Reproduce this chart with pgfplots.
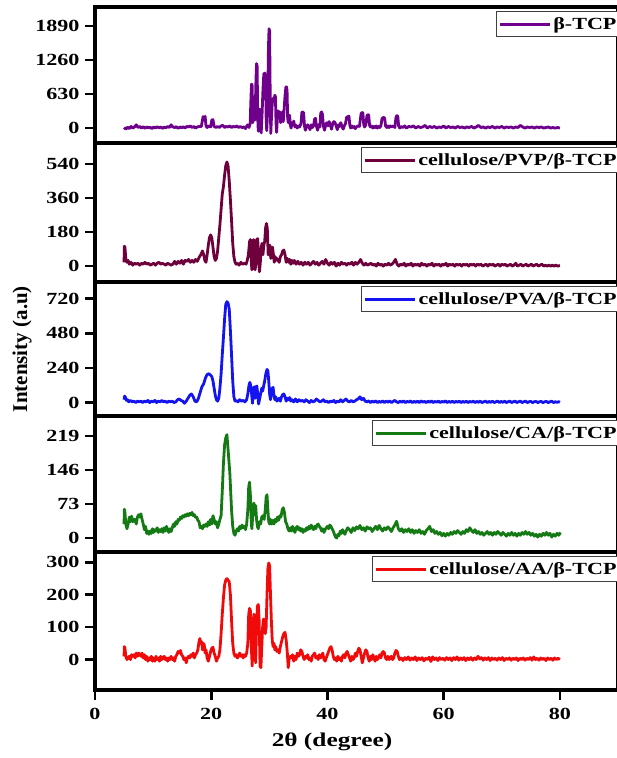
\documentclass[border=0pt]{standalone}
\usepackage{fontspec}
\setmainfont{Liberation Serif}
\newfontfamily\wfont[FakeStretch=1.3]{Liberation Serif}
\usepackage{pgfplots}
\pgfplotsset{compat=1.18}
\definecolor{cTCP}{RGB}{110,0,140}
\definecolor{cPVP}{RGB}{110,0,60}
\definecolor{cPVA}{RGB}{20,20,240}
\definecolor{cCA}{RGB}{20,122,20}
\definecolor{cAA}{RGB}{240,10,10}
\pgfplotsset{
  panel/.style={
    scale only axis, width=523pt, xmin=0, xmax=90,
    axis line style={line width=3.2pt},
    every tick/.style={line width=2.6pt, black},
    major tick length=10pt, tick align=outside,
    ytick pos=left, xtick pos=bottom,
    /pgf/number format/assume math mode=true,
    /pgf/number format/1000 sep={},
    ticklabel style={font=\wfont\bfseries\fontsize{17}{17}\selectfont},
    yticklabel style={xshift=-2pt},
    xticklabel style={yshift=-5pt},
    legend style={at={(rel axis cs:1,1)}, anchor=north east, xshift=3pt, yshift=-4pt,
      draw=black!75, line width=1pt, inner xsep=2pt, inner ysep=4pt,
      font=\wfont\bfseries\fontsize{17}{19}\selectfont},
    legend image code/.code={\draw[#1,line width=3pt] (0pt,0pt) -- (50pt,0pt);},
    every axis plot/.append style={line width=2.8pt, line join=round},
  }
}
\begin{document}
\begin{tikzpicture}[x=1pt,y=1pt]
\useasboundingbox (0,0) rectangle (617,-758);
% ---------- panel 1: beta-TCP
\begin{axis}[panel, at={(95pt,-7pt)}, anchor=north west, height=136pt,
  ymin=-277, ymax=2245, ytick={0,630,1260,1890}, xtick=\empty]
\addplot[cTCP] coordinates {(5.0,10) (5.3,-20) (5.6,15) (5.9,-10) (6.2,30) (6.5,0) (6.8,20) (7.1,60) (7.4,10) (7.7,30) (8.0,0) (8.3,25) (8.6,-5) (8.9,20) (9.2,5) (9.5,15) (9.8,-10) (10.1,20) (10.4,0) (10.7,25) (11.0,5) (11.3,20) (11.6,-5) (11.9,15) (12.2,5) (12.5,30) (12.8,10) (13.1,60) (13.4,20) (13.7,10) (14.0,25) (14.3,-5) (14.6,20) (14.9,5) (15.2,25) (15.5,0) (15.8,30) (16.1,20) (16.4,40) (16.7,10) (17.0,30) (17.3,0) (17.6,20) (18.0,30) (18.3,30) (18.5,150) (18.6,210) (18.8,200) (18.95,215) (19.1,40) (19.3,10) (19.6,40) (19.9,20) (20.1,150) (20.3,155) (20.5,30) (20.8,10) (21.1,30) (21.4,10) (21.7,40) (22.0,50) (22.3,10) (22.6,30) (22.9,20) (23.2,40) (23.5,10) (23.8,30) (24.1,20) (24.4,40) (24.7,10) (25.0,30) (25.3,10) (25.6,20) (25.9,-10) (26.0,20) (26.3,60) (26.5,10) (26.7,80) (26.85,600) (26.95,815) (27.05,790) (27.15,100) (27.3,250) (27.45,400) (27.55,150) (27.7,900) (27.8,1195) (27.9,1150) (28.0,200) (28.1,-60) (28.2,150) (28.35,350) (28.5,50) (28.6,-90) (28.75,250) (28.9,700) (29.05,1000) (29.2,1020) (29.35,950) (29.45,200) (29.55,-50) (29.7,300) (29.85,1500) (29.95,1842) (30.05,1800) (30.15,600) (30.25,-100) (30.35,150) (30.5,450) (30.65,550) (30.8,500) (30.95,610) (31.05,580) (31.15,100) (31.25,-80) (31.4,200) (31.5,320) (31.65,250) (31.8,300) (31.95,100) (32.1,200) (32.25,300) (32.4,120) (32.55,350) (32.7,600) (32.85,760) (32.95,764) (33.05,700) (33.15,200) (33.25,100) (33.4,240) (33.5,230) (33.6,60) (33.75,0) (33.9,100) (34.05,60) (34.2,130) (34.4,20) (34.6,50) (34.8,0) (35.0,40) (35.2,20) (35.45,80) (35.6,290) (35.75,300) (35.9,280) (36.05,40) (36.2,-40) (36.4,20) (36.6,60) (36.8,30) (37.0,-30) (37.2,60) (37.4,10) (37.6,40) (37.8,170) (37.95,180) (38.1,40) (38.3,-40) (38.5,60) (38.7,20) (38.85,280) (39.0,300) (39.15,250) (39.3,40) (39.5,-40) (39.7,60) (39.9,100) (40.1,40) (40.3,120) (40.5,60) (40.7,-20) (40.9,80) (41.1,120) (41.3,100) (41.5,40) (41.7,-30) (41.9,60) (42.1,30) (42.3,100) (42.5,30) (42.7,-20) (42.9,40) (43.1,80) (43.3,200) (43.5,210) (43.7,220) (43.85,60) (44.0,0) (44.2,40) (44.4,10) (44.6,30) (44.8,-10) (45.0,20) (45.2,40) (45.5,30) (45.8,270) (45.95,290) (46.1,280) (46.25,60) (46.4,20) (46.6,60) (46.8,230) (46.95,250) (47.1,240) (47.25,50) (47.4,20) (47.6,40) (47.8,0) (48.0,30) (48.2,10) (48.4,40) (48.6,0) (48.8,30) (49.0,10) (49.2,40) (49.4,180) (49.55,190) (49.7,200) (49.85,180) (50.0,40) (50.2,10) (50.4,40) (50.6,10) (50.8,40) (51.0,20) (51.3,40) (51.6,10) (51.8,200) (51.95,230) (52.1,220) (52.25,40) (52.45,0) (52.7,30) (53.0,10) (53.3,40) (53.6,0) (54.0,30) (54.4,20) (54.8,40) (55.2,0) (55.6,30) (56.0,10) (56.4,20) (56.8,50) (57.2,0) (57.6,30) (58.0,10) (58.4,30) (58.8,0) (59.2,20) (59.6,10) (60.0,40) (60.4,0) (60.8,30) (61.2,10) (61.6,20) (62.0,0) (62.4,30) (62.8,10) (63.2,20) (63.6,0) (64.0,20) (64.4,10) (64.8,30) (65.2,0) (65.6,20) (66.0,50) (66.4,10) (66.8,20) (67.2,0) (67.6,20) (68.0,10) (68.4,30) (68.8,0) (69.2,20) (69.6,10) (70.0,30) (70.4,0) (70.8,20) (71.2,10) (71.6,20) (72.0,0) (72.4,20) (72.8,10) (73.2,50) (73.6,20) (74.0,0) (74.4,20) (74.8,10) (75.2,20) (75.6,0) (76.0,20) (76.4,10) (76.8,20) (77.2,0) (77.6,10) (78.0,20) (78.4,0) (78.8,10) (79.2,0) (79.6,10) (80.0,0)};
\addlegendentry{β-TCP}
\end{axis}
% ---------- panel 2: PVP
\begin{axis}[panel, at={(95pt,-143pt)}, anchor=north west, height=139pt,
  ymin=-84, ymax=650, ytick={0,180,360,540}, xtick=\empty]
\addplot[cPVP] coordinates {(5.0,20) (5.05,105) (5.15,100) (5.3,40) (5.5,20) (5.7,30) (5.9,10) (6.2,20) (6.5,5) (6.8,15) (7.1,10) (7.4,15) (7.7,5) (8.0,15) (8.3,10) (8.6,20) (8.9,10) (9.2,15) (9.5,5) (9.8,10) (10.1,15) (10.4,5) (10.7,15) (11.0,20) (11.3,10) (11.6,15) (11.9,10) (12.2,5) (12.5,15) (12.8,10) (13.1,5) (13.4,10) (13.7,25) (14.0,10) (14.3,25) (14.6,15) (14.9,30) (15.2,10) (15.5,30) (15.8,25) (16.1,35) (16.4,20) (16.7,30) (17.0,20) (17.3,35) (17.6,25) (17.9,45) (18.2,60) (18.5,80) (18.7,60) (18.9,30) (19.1,20) (19.3,60) (19.5,110) (19.7,150) (19.9,165) (20.1,150) (20.3,100) (20.5,50) (20.7,30) (20.9,40) (21.1,80) (21.3,150) (21.5,220) (21.7,300) (21.9,380) (22.1,420) (22.3,480) (22.5,530) (22.7,550) (22.9,530) (23.1,450) (23.3,350) (23.5,240) (23.7,120) (23.9,50) (24.1,20) (24.3,10) (24.5,15) (24.8,5) (25.1,20) (25.4,10) (25.7,15) (26.0,10) (26.2,30) (26.4,60) (26.6,130) (26.75,140) (26.9,20) (27.0,-20) (27.15,130) (27.3,140) (27.45,100) (27.55,-20) (27.7,20) (27.85,140) (28.0,145) (28.15,30) (28.3,-30) (28.45,20) (28.6,100) (28.75,120) (28.9,60) (29.05,110) (29.2,130) (29.35,200) (29.5,225) (29.65,200) (29.8,60) (29.95,100) (30.1,110) (30.25,40) (30.4,90) (30.55,100) (30.7,60) (30.85,20) (31.0,50) (31.15,30) (31.3,40) (31.5,30) (31.7,20) (31.9,50) (32.1,60) (32.3,80) (32.5,85) (32.7,60) (32.9,20) (33.1,40) (33.3,20) (33.5,35) (33.7,10) (33.9,30) (34.1,15) (34.3,30) (34.6,10) (34.9,25) (35.2,10) (35.5,20) (35.8,5) (36.1,20) (36.4,10) (36.7,20) (37.0,5) (37.3,15) (37.6,25) (37.9,10) (38.2,20) (38.5,5) (38.8,15) (39.1,25) (39.4,10) (39.7,35) (40.0,15) (40.3,5) (40.6,20) (40.9,10) (41.2,20) (41.5,0) (41.8,15) (42.1,5) (42.4,20) (42.7,10) (43.0,15) (43.3,5) (43.6,15) (43.9,10) (44.2,20) (44.5,5) (44.8,20) (45.1,10) (45.4,20) (45.7,35) (46.0,15) (46.3,5) (46.6,15) (46.9,5) (47.2,10) (47.5,15) (47.8,5) (48.1,10) (48.4,0) (48.7,15) (49.0,5) (49.3,10) (49.6,0) (49.9,10) (50.2,5) (50.5,15) (50.8,5) (51.1,10) (51.4,20) (51.7,35) (52.0,10) (52.3,0) (52.6,10) (52.9,5) (53.2,15) (53.5,0) (53.8,10) (54.1,5) (54.4,15) (54.7,0) (55.0,10) (55.3,5) (55.6,10) (55.9,0) (56.2,15) (56.5,5) (56.8,10) (57.1,0) (57.4,10) (57.7,5) (58.0,15) (58.3,0) (58.6,10) (58.9,5) (59.2,10) (59.5,0) (59.8,10) (60.1,5) (60.4,15) (60.7,0) (61.0,10) (61.3,5) (61.6,10) (61.9,0) (62.2,10) (62.5,5) (62.8,10) (63.1,0) (63.4,10) (63.7,5) (64.0,10) (64.3,0) (64.6,10) (64.9,5) (65.2,10) (65.5,0) (65.8,10) (66.1,5) (66.4,10) (66.7,0) (67.0,5) (67.3,10) (67.6,0) (67.9,10) (68.2,5) (68.5,10) (68.8,0) (69.1,5) (69.4,10) (69.7,0) (70.0,10) (70.3,5) (70.6,10) (70.9,0) (71.2,5) (71.5,10) (71.8,0) (72.1,5) (72.4,15) (72.7,0) (73.0,5) (73.3,10) (73.6,0) (73.9,5) (74.2,10) (74.5,0) (74.8,5) (75.1,10) (75.4,0) (75.7,5) (76.0,10) (76.3,0) (76.6,5) (76.9,10) (77.2,0) (77.5,5) (77.8,0) (78.1,5) (78.4,0) (78.7,5) (79.0,0) (79.3,5) (79.6,0) (80.0,3)};
\addlegendentry{cellulose/PVP/β-TCP}
\end{axis}
% ---------- panel 3: PVA
\begin{axis}[panel, at={(95pt,-282pt)}, anchor=north west, height=134pt,
  ymin=-93, ymax=836, ytick={0,240,480,720}, xtick=\empty]
\addplot[cPVA] coordinates {(5.0,20) (5.1,45) (5.25,35) (5.4,15) (5.6,20) (5.8,5) (6.1,15) (6.4,5) (6.7,10) (7.0,0) (7.3,10) (7.6,5) (7.9,10) (8.2,0) (8.5,10) (8.8,5) (9.1,15) (9.4,0) (9.7,10) (10.0,5) (10.3,15) (10.6,0) (10.9,10) (11.2,5) (11.5,15) (11.8,5) (12.1,10) (12.4,0) (12.7,10) (13.0,5) (13.3,10) (13.6,0) (13.9,5) (14.2,20) (14.5,25) (14.8,15) (15.1,10) (15.4,-5) (15.7,10) (16.0,30) (16.3,50) (16.6,60) (16.9,40) (17.2,10) (17.5,5) (17.8,30) (18.1,70) (18.4,110) (18.7,130) (19.0,170) (19.3,195) (19.6,200) (19.9,190) (20.1,180) (20.3,150) (20.5,100) (20.7,50) (20.9,20) (21.1,10) (21.3,30) (21.5,100) (21.7,200) (21.9,330) (22.1,450) (22.3,580) (22.5,680) (22.7,700) (22.9,690) (23.1,650) (23.3,500) (23.5,330) (23.7,150) (23.9,40) (24.1,10) (24.3,15) (24.6,5) (24.9,20) (25.2,10) (25.5,15) (25.8,5) (26.1,20) (26.3,60) (26.5,120) (26.65,140) (26.8,120) (26.95,60) (27.1,-5) (27.25,80) (27.4,110) (27.55,30) (27.7,110) (27.85,115) (28.0,60) (28.15,-10) (28.3,20) (28.5,60) (28.7,100) (28.85,80) (29.0,110) (29.2,150) (29.4,200) (29.6,230) (29.75,220) (29.9,150) (30.05,60) (30.2,20) (30.35,60) (30.5,100) (30.65,105) (30.8,50) (30.95,20) (31.1,40) (31.3,10) (31.5,20) (31.7,30) (31.9,10) (32.1,40) (32.3,55) (32.5,60) (32.7,40) (32.9,10) (33.1,30) (33.3,20) (33.5,35) (33.7,10) (33.9,20) (34.2,5) (34.5,25) (34.8,5) (35.1,20) (35.4,10) (35.7,15) (36.0,5) (36.3,20) (36.6,10) (36.9,0) (37.2,15) (37.5,5) (37.8,10) (38.1,25) (38.4,15) (38.7,5) (39.0,10) (39.3,20) (39.6,5) (39.9,10) (40.2,0) (40.5,10) (40.8,5) (41.1,15) (41.4,0) (41.7,10) (42.0,5) (42.3,20) (42.6,5) (42.9,15) (43.2,25) (43.5,10) (43.8,5) (44.1,15) (44.4,5) (44.7,10) (45.0,20) (45.3,25) (45.6,40) (45.9,20) (46.2,30) (46.5,10) (46.8,5) (47.1,12) (47.4,0) (47.7,10) (48.0,3) (48.3,12) (48.6,0) (48.9,8) (49.2,2) (49.5,12) (49.8,0) (50.1,10) (50.4,3) (50.7,12) (51.0,0) (51.3,8) (51.6,15) (51.9,5) (52.2,0) (52.5,10) (52.8,2) (53.1,12) (53.4,0) (53.7,8) (54.0,3) (54.3,12) (54.6,0) (54.9,8) (55.2,2) (55.5,10) (55.8,0) (56.1,12) (56.4,3) (56.7,8) (57.0,0) (57.3,10) (57.6,2) (57.9,12) (58.2,0) (58.5,8) (58.8,3) (59.1,10) (59.4,0) (59.7,8) (60.0,3) (60.3,12) (60.6,0) (60.9,8) (61.2,2) (61.5,10) (61.8,0) (62.1,8) (62.4,3) (62.7,10) (63.0,0) (63.3,8) (63.6,2) (63.9,10) (64.2,0) (64.5,8) (64.8,3) (65.1,10) (65.4,0) (65.7,8) (66.0,2) (66.3,10) (66.6,0) (66.9,6) (67.2,10) (67.5,0) (67.8,8) (68.1,2) (68.4,10) (68.7,0) (69.0,6) (69.3,10) (69.6,0) (69.9,8) (70.2,2) (70.5,10) (70.8,0) (71.1,6) (71.4,10) (71.7,0) (72.0,6) (72.3,10) (72.6,0) (72.9,6) (73.2,10) (73.5,0) (73.8,6) (74.1,10) (74.4,0) (74.7,6) (75.0,8) (75.3,0) (75.6,6) (75.9,8) (76.2,0) (76.5,6) (76.8,8) (77.1,0) (77.4,6) (77.7,8) (78.0,0) (78.3,6) (78.6,10) (78.9,0) (79.2,6) (79.5,2) (79.8,6) (80.0,2)};
\addlegendentry{cellulose/PVA/β-TCP}
\end{axis}
% ---------- panel 4: CA
\begin{axis}[panel, at={(95pt,-416pt)}, anchor=north west, height=136pt,
  ymin=-30, ymax=262, ytick={0,73,146,219}, xtick=\empty]
\addplot[cCA] coordinates {(5.0,30) (5.05,62) (5.15,55) (5.3,30) (5.5,20) (5.7,30) (5.9,45) (6.1,35) (6.3,47) (6.5,35) (6.7,40) (6.9,40) (7.1,30) (7.3,45) (7.5,50) (7.7,45) (7.9,52) (8.1,40) (8.3,30) (8.5,18) (8.7,25) (8.9,10) (9.1,15) (9.3,8) (9.5,15) (9.7,10) (9.9,20) (10.1,12) (10.3,18) (10.5,15) (10.7,22) (10.9,12) (11.1,18) (11.3,14) (11.5,20) (11.7,12) (11.9,22) (12.1,15) (12.3,25) (12.5,18) (12.7,12) (12.9,20) (13.1,14) (13.3,22) (13.5,30) (13.7,25) (13.9,35) (14.1,30) (14.3,40) (14.5,38) (14.7,45) (14.9,42) (15.1,48) (15.3,45) (15.5,50) (15.7,47) (15.9,52) (16.1,48) (16.3,53) (16.5,50) (16.7,55) (16.9,48) (17.1,50) (17.3,44) (17.5,45) (17.7,38) (17.9,35) (18.1,22) (18.3,25) (18.5,20) (18.7,28) (18.9,25) (19.1,30) (19.3,25) (19.5,35) (19.7,28) (19.9,40) (20.1,30) (20.3,48) (20.5,40) (20.7,30) (20.9,35) (21.1,22) (21.3,30) (21.5,40) (21.7,48) (21.9,100) (22.1,160) (22.3,200) (22.5,215) (22.7,222) (22.9,190) (23.05,165) (23.2,140) (23.35,100) (23.5,60) (23.7,25) (23.9,10) (24.1,6) (24.3,15) (24.5,20) (24.7,15) (24.9,25) (25.1,20) (25.3,28) (25.5,22) (25.7,25) (25.9,18) (26.1,30) (26.3,60) (26.45,110) (26.6,120) (26.75,90) (26.9,30) (27.0,20) (27.2,60) (27.35,75) (27.5,50) (27.65,70) (27.8,40) (27.95,25) (28.1,20) (28.3,35) (28.5,30) (28.7,45) (28.9,48) (29.1,40) (29.3,60) (29.45,88) (29.6,93) (29.75,60) (29.9,35) (30.05,30) (30.2,40) (30.4,30) (30.6,38) (30.8,30) (31.0,40) (31.2,35) (31.4,45) (31.6,38) (31.8,48) (32.0,45) (32.2,60) (32.4,65) (32.6,55) (32.8,35) (33.0,30) (33.2,20) (33.4,15) (33.6,22) (33.8,15) (34.0,25) (34.2,18) (34.4,12) (34.6,22) (34.8,25) (35.0,18) (35.2,22) (35.4,15) (35.6,20) (35.8,12) (36.0,18) (36.2,15) (36.4,22) (36.6,18) (36.8,25) (37.0,20) (37.2,28) (37.4,22) (37.6,18) (37.8,25) (38.0,20) (38.2,28) (38.4,30) (38.6,25) (38.8,22) (39.0,15) (39.2,20) (39.4,12) (39.6,18) (39.8,22) (40.0,25) (40.2,20) (40.4,28) (40.6,25) (40.8,20) (41.0,15) (41.2,8) (41.4,2) (41.6,0) (41.8,8) (42.0,5) (42.2,15) (42.4,10) (42.6,18) (42.8,12) (43.0,8) (43.2,15) (43.5,22) (43.8,18) (44.1,12) (44.4,22) (44.7,16) (45.0,24) (45.3,20) (45.6,27) (45.9,18) (46.2,22) (46.5,15) (46.8,24) (47.1,20) (47.4,22) (47.7,14) (48.0,20) (48.3,25) (48.6,18) (48.9,27) (49.2,20) (49.5,15) (49.8,22) (50.1,18) (50.4,24) (50.7,20) (51.0,14) (51.3,22) (51.6,28) (51.9,36) (52.2,20) (52.5,15) (52.8,20) (53.1,12) (53.4,18) (53.7,14) (54.0,20) (54.3,12) (54.6,18) (54.9,10) (55.2,16) (55.5,12) (55.8,18) (56.1,10) (56.4,14) (56.7,8) (57.0,16) (57.3,20) (57.6,25) (57.9,14) (58.2,18) (58.5,10) (58.8,14) (59.1,8) (59.4,12) (59.7,5) (60.0,10) (60.3,4) (60.6,10) (60.9,6) (61.2,12) (61.5,8) (61.8,14) (62.1,10) (62.4,16) (62.7,12) (63.0,8) (63.3,14) (63.6,10) (63.9,18) (64.2,14) (64.5,22) (64.8,16) (65.1,12) (65.4,18) (65.7,10) (66.0,14) (66.3,8) (66.6,12) (66.9,6) (67.2,10) (67.5,14) (67.8,8) (68.1,12) (68.4,6) (68.7,12) (69.0,8) (69.3,14) (69.6,10) (69.9,6) (70.2,12) (70.5,8) (70.8,4) (71.1,10) (71.4,6) (71.7,12) (72.0,6) (72.3,10) (72.6,4) (72.9,10) (73.2,6) (73.5,12) (73.8,8) (74.1,14) (74.4,8) (74.7,12) (75.0,6) (75.3,10) (75.6,4) (75.9,8) (76.2,2) (76.5,8) (76.8,4) (77.1,10) (77.4,6) (77.7,12) (78.0,6) (78.3,10) (78.6,2) (78.9,8) (79.2,4) (79.5,10) (79.8,6) (80.1,12)};
\addlegendentry{cellulose/CA/β-TCP}
\end{axis}
% ---------- panel 5: AA
\begin{axis}[panel, at={(95pt,-552pt)}, anchor=north west, height=138pt,
  ymin=-94, ymax=332, ytick={0,100,200,300}, xtick={0,20,40,60,80}]
\addplot[cAA] coordinates {(5.0,10) (5.05,40) (5.15,35) (5.3,10) (5.5,0) (5.7,5) (5.9,10) (6.1,0) (6.3,15) (6.5,10) (6.7,15) (6.9,5) (7.1,20) (7.3,10) (7.5,20) (7.7,15) (7.9,10) (8.1,20) (8.3,5) (8.5,15) (8.7,0) (8.9,10) (9.1,-5) (9.3,5) (9.5,0) (9.7,10) (9.9,-5) (10.1,5) (10.3,-5) (10.5,10) (10.7,0) (10.9,5) (11.1,-5) (11.3,10) (11.5,0) (11.7,5) (11.9,10) (12.1,0) (12.3,5) (12.5,-5) (12.7,5) (12.9,0) (13.1,10) (13.3,0) (13.5,5) (13.7,-5) (13.9,10) (14.1,15) (14.3,25) (14.5,20) (14.7,28) (14.9,15) (15.1,10) (15.3,0) (15.5,5) (15.7,-10) (15.9,5) (16.1,10) (16.3,5) (16.5,15) (16.7,10) (16.9,20) (17.1,5) (17.3,15) (17.5,20) (17.7,30) (17.9,55) (18.05,65) (18.2,50) (18.35,55) (18.5,30) (18.65,50) (18.8,45) (18.95,20) (19.1,30) (19.3,5) (19.5,-5) (19.7,10) (19.9,25) (20.1,35) (20.3,38) (20.5,20) (20.7,10) (20.9,-5) (21.1,5) (21.3,10) (21.5,30) (21.7,80) (21.9,140) (22.1,190) (22.3,230) (22.5,245) (22.7,250) (22.9,245) (23.1,240) (23.3,200) (23.5,120) (23.7,50) (23.9,20) (24.1,10) (24.3,15) (24.5,5) (24.7,10) (24.9,20) (25.1,10) (25.3,15) (25.5,5) (25.7,15) (25.9,10) (26.1,20) (26.3,50) (26.45,140) (26.6,158) (26.75,150) (26.9,40) (27.05,-20) (27.2,60) (27.35,140) (27.5,100) (27.65,-10) (27.8,100) (27.95,165) (28.1,170) (28.25,120) (28.4,-20) (28.55,-25) (28.7,40) (28.85,100) (29.0,125) (29.15,120) (29.3,80) (29.45,100) (29.6,200) (29.75,280) (29.9,298) (30.05,290) (30.2,200) (30.35,120) (30.5,60) (30.65,40) (30.8,50) (30.95,30) (31.1,40) (31.3,25) (31.5,30) (31.7,20) (31.9,40) (32.1,55) (32.3,70) (32.5,80) (32.7,84) (32.9,60) (33.1,20) (33.25,-25) (33.4,0) (33.6,10) (33.8,5) (34.0,15) (34.2,-5) (34.4,10) (34.6,0) (34.8,20) (35.0,10) (35.2,15) (35.4,30) (35.6,25) (35.8,10) (36.0,0) (36.2,10) (36.4,5) (36.6,15) (36.8,0) (37.0,5) (37.2,-5) (37.4,10) (37.6,15) (37.8,20) (38.0,5) (38.2,10) (38.4,0) (38.6,15) (38.8,5) (39.0,10) (39.2,20) (39.4,0) (39.6,-5) (39.8,5) (40.0,15) (40.2,25) (40.4,35) (40.6,40) (40.8,30) (41.0,10) (41.2,0) (41.4,5) (41.6,-5) (41.8,10) (42.0,0) (42.2,5) (42.4,-5) (42.6,10) (42.8,15) (43.0,5) (43.2,20) (43.4,25) (43.6,15) (43.8,5) (44.0,-5) (44.2,10) (44.4,0) (44.6,5) (44.8,20) (45.0,10) (45.2,25) (45.4,35) (45.6,30) (45.8,10) (46.0,-10) (46.2,5) (46.4,20) (46.6,30) (46.8,25) (47.0,5) (47.2,-5) (47.4,10) (47.6,0) (47.8,15) (48.0,5) (48.2,-5) (48.4,10) (48.6,0) (48.8,5) (49.0,15) (49.2,5) (49.4,20) (49.6,25) (49.8,20) (50.0,5) (50.2,0) (50.4,10) (50.6,0) (50.8,5) (51.0,10) (51.2,0) (51.4,5) (51.6,20) (51.8,28) (52.0,25) (52.2,10) (52.4,0) (52.7,5) (53.0,-3) (53.3,6) (53.6,0) (53.9,8) (54.2,-2) (54.5,5) (54.8,0) (55.1,8) (55.4,-3) (55.7,5) (56.0,0) (56.3,6) (56.6,-4) (56.9,4) (57.2,0) (57.5,7) (57.8,-6) (58.1,8) (58.4,0) (58.7,5) (59.0,-3) (59.3,6) (59.6,0) (59.9,4) (60.2,-2) (60.5,6) (60.8,0) (61.1,5) (61.4,-3) (61.7,6) (62.0,0) (62.3,8) (62.6,-2) (62.9,5) (63.2,0) (63.5,6) (63.8,-3) (64.1,5) (64.4,0) (64.7,6) (65.0,-2) (65.3,5) (65.6,0) (65.9,10) (66.2,2) (66.5,6) (66.8,-2) (67.1,5) (67.4,0) (67.7,6) (68.0,-3) (68.3,5) (68.6,0) (68.9,4) (69.2,-2) (69.5,5) (69.8,0) (70.1,6) (70.4,-3) (70.7,4) (71.0,0) (71.3,5) (71.6,-2) (71.9,4) (72.2,0) (72.5,5) (72.8,-3) (73.1,4) (73.4,0) (73.7,5) (74.0,-2) (74.3,4) (74.6,0) (74.9,6) (75.2,-2) (75.5,8) (75.8,0) (76.1,4) (76.4,-2) (76.7,5) (77.0,0) (77.3,4) (77.6,-3) (77.9,5) (78.2,0) (78.5,4) (78.8,-2) (79.1,5) (79.4,0) (79.7,4) (80.0,0)};
\addlegendentry{cellulose/AA/β-TCP}
\end{axis}
\node[rotate=90, font=\bfseries\fontsize{21}{23}\selectfont] at (22,-349) {Intensity (a.u)};
\node[font=\wfont\bfseries\fontsize{19.5}{22}\selectfont] at (332,-742) {2θ (degree)};
\end{tikzpicture}
\end{document}
